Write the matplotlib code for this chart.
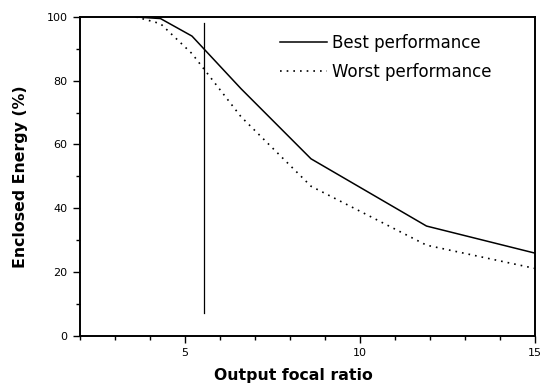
import matplotlib
matplotlib.use("Agg")
import matplotlib.pyplot as plt
from matplotlib.ticker import MultipleLocator

# Enclosed energy versus output focal ratio
focal_ratio = [3.6, 4.3, 5.2, 6.6, 8.6, 11.9, 15.0]
best_energy = [100.0, 99.5, 94.0, 77.5, 55.5, 34.4, 25.9]
worst_energy = [100.0, 97.9, 88.5, 68.7, 46.9, 28.4, 21.1]

# Vertical marker at the nominal focal ratio
marker_x = 5.53
marker_span = [7.0, 98.0]

series_labels = ["Best performance", "Worst performance"]

plt.rcParams["font.family"] = ["DejaVu Sans"]

fig = plt.figure(figsize=(5.43, 3.84), dpi=100)
ax = fig.add_axes([0.1473, 0.1258, 0.8380, 0.8300])

ax.plot(focal_ratio, best_energy, color="black", lw=1.1, label=series_labels[0])
ax.plot(focal_ratio, worst_energy, color="black", lw=1.2, linestyle=(0, (1, 3)),
        label=series_labels[1])
ax.plot([marker_x, marker_x], marker_span, color="black", lw=0.9)

ax.set_xlim(2, 15)
ax.set_ylim(0, 100)
ax.xaxis.set_major_locator(MultipleLocator(5))
ax.xaxis.set_minor_locator(MultipleLocator(1))
ax.yaxis.set_major_locator(MultipleLocator(20))
ax.yaxis.set_minor_locator(MultipleLocator(10))

for s in ax.spines.values():
    s.set_linewidth(1.4)

ax.tick_params(which="major", direction="out", length=5, width=1.0, labelsize=8, pad=4)
ax.tick_params(which="minor", direction="out", length=3, width=1.0)

ax.set_xlabel("Output focal ratio", fontsize=11.3, fontweight="bold")
ax.xaxis.set_label_coords(0.470, -0.100)
ax.set_ylabel("Enclosed Energy (%)", fontsize=11.3, fontweight="bold", labelpad=13)

leg = ax.legend(loc="upper left", bbox_to_anchor=(0.407, 0.995), frameon=False,
                fontsize=12, handlelength=2.8, handletextpad=0.3, labelspacing=0.7)

fig.savefig("out.png", dpi=100, facecolor="white")
